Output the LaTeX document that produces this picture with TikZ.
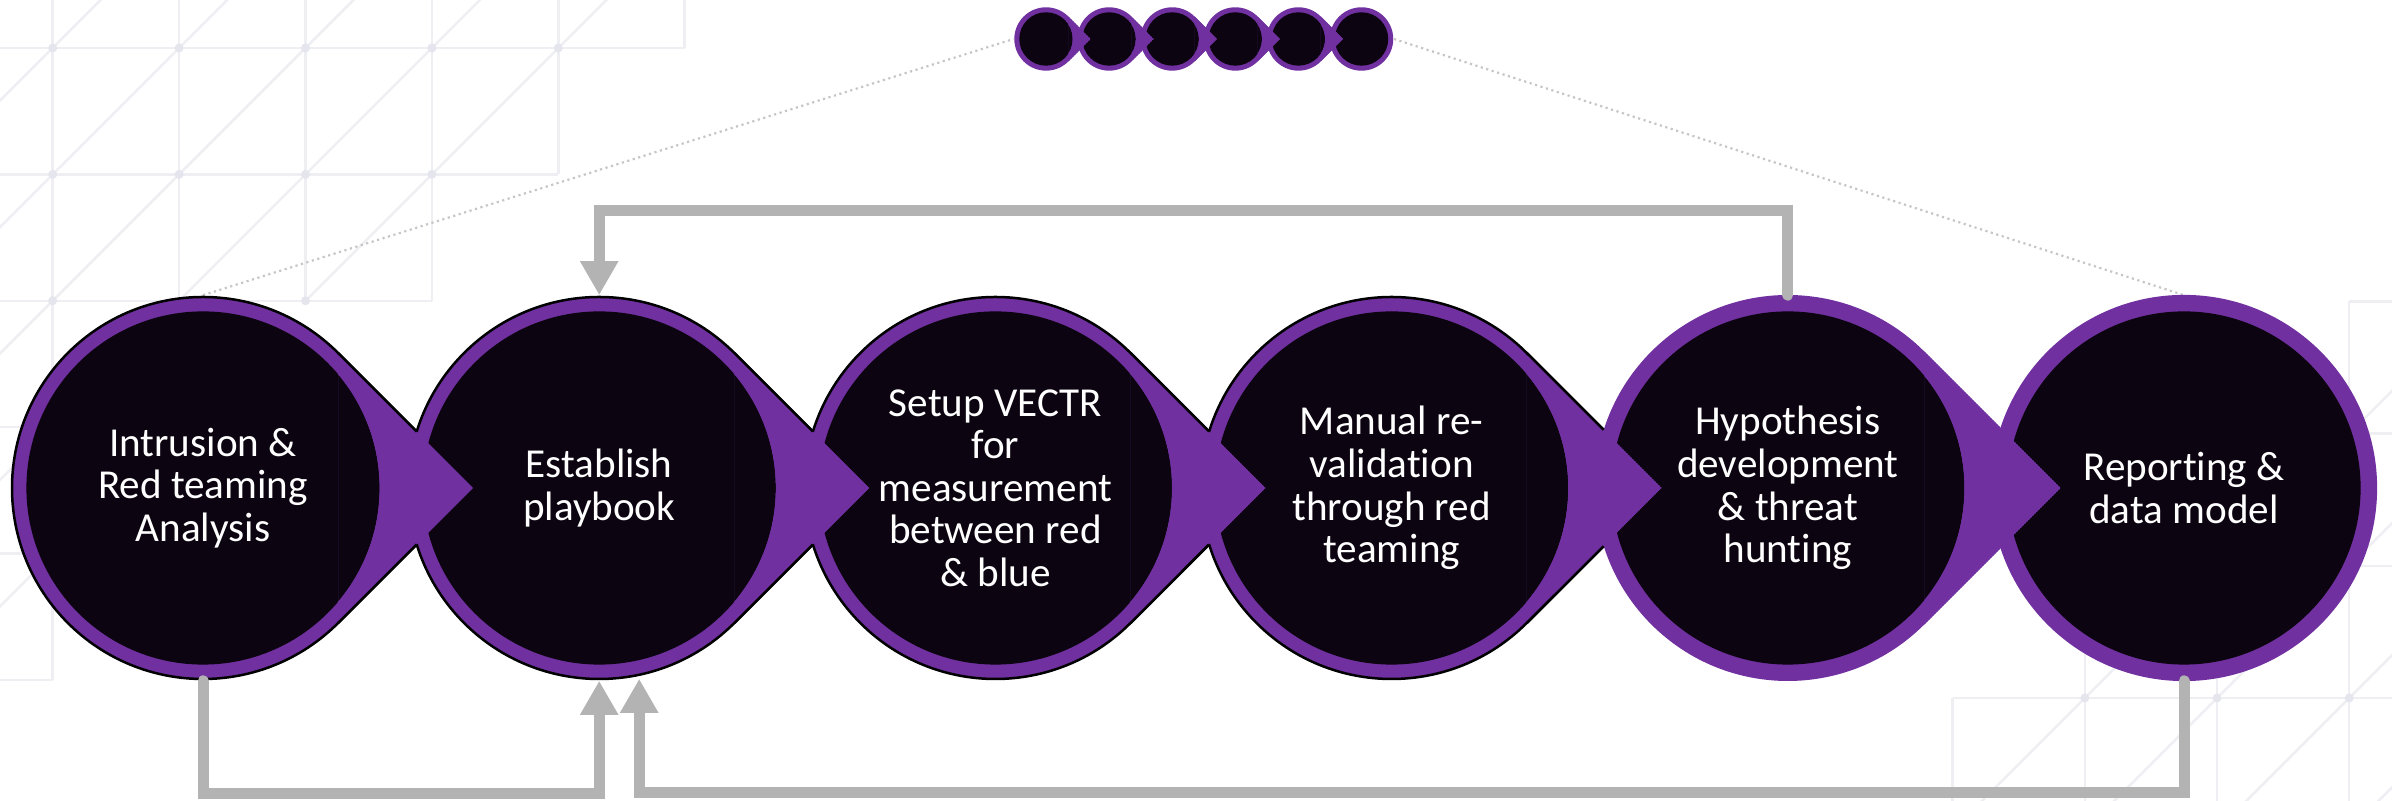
\documentclass[tikz,border=0pt]{standalone}
\usepackage{fontspec}
\setmainfont{Carlito}[Ligatures={NoCommon}]
\usetikzlibrary{arrows.meta,calc}
\definecolor{vpurple}{HTML}{7030A0}
\definecolor{vblack}{HTML}{0C0410}
\definecolor{gridc}{HTML}{EEEEF3}
\definecolor{gridd}{HTML}{E5E5EE}
\definecolor{connc}{HTML}{B3B3B3}
\definecolor{dotc}{HTML}{C6C6C6}
\pgfdeclarelayer{gridl}
\pgfdeclarelayer{shapes}
\pgfsetlayers{gridl,shapes,main}
\newcommand\tdpath[3]{(#1+0.70711*#3,#2+0.70711*#3) arc[start angle=45,end angle=315,radius=#3*0.01cm] -- (#1+1.41421*#3,#2) -- cycle}
\newcommand\tripath[3]{(#1+0.70711*#3,#2+0.70711*#3) -- (#1+1.41421*#3,#2) -- (#1+0.70711*#3,#2-0.70711*#3) -- cycle}
\begin{document}
\begin{tikzpicture}[x=0.01cm,y=0.01cm,
  stepnode/.style={circle, minimum size=3.84cm, inner sep=0pt, text=white, align=center, font=\fontsize{11.7pt}{12.1pt}\selectfont},
  mininode/.style={circle, minimum size=0.634cm, inner sep=0pt},
  conn/.style={draw=connc, line width=0.11cm, line cap=round, -{Triangle[width=0.36cm,length=0.34cm]}},
  dotline/.style={draw=dotc, line width=0.022cm, dash pattern=on 0.022cm off 0.035cm},
  gridline/.style={draw=gridc, line width=0.025cm},
  outl/.style={draw=black, line width=0.025cm}]
\useasboundingbox (0,0) rectangle (2392,801);

% ---------- nodes (text) ----------
\node[stepnode] (c1) at (203,313) {Intrusion \&\\Red teaming\\Analysis};
\node[stepnode] (c2) at (599.2,313) {Establish\\playbook};
\node[stepnode] (c3) at (995.4,313) {Setup VECTR\\for\\measurement\\between red\\\& blue};
\node[stepnode] (c4) at (1391.6,313) {Manual re-\\validation\\through red\\teaming};
\node[stepnode] (c5) at (1787.8,313) {Hypothesis\\development\\\& threat\\hunting};
\node[stepnode] (c6) at (2184,313) {Reporting \&\\data model};
\node[mininode] (m1) at (1046,762) {};
\node[mininode] (m2) at (1109.1,762) {};
\node[mininode] (m3) at (1172.2,762) {};
\node[mininode] (m4) at (1235.3,762) {};
\node[mininode] (m5) at (1298.4,762) {};
\node[mininode] (m6) at (1361.5,762) {};
\coordinate (lowA) at (0,7);
\coordinate (lowB) at (0,8.5);
\coordinate (high) at (0,590);
\coordinate (c2in) at ($(c2.south)+(40,2)$);

% ---------- background grid ----------
\begin{pgfonlayer}{gridl}
 % top-left grid
 \begin{scope}
  \clip (0,801) -- (684.7,801) -- (684.7,753) -- (558.3,753) -- (558.3,626.6) -- (431.9,626.6) -- (431.9,500.2) -- (179.1,500.2) -- (179.1,373.8) -- (52.7,373.8) -- (52.7,121) -- (0,121) -- cycle;
  \foreach \n in {-1,...,6}{
    \pgfmathsetmacro\cc{100.7+126.4*\n}
    \draw[gridline] (-100,{701-\cc}) -- (800,{1601-\cc});
  }
 \end{scope}
 \draw[gridline] (0,753) -- (684.7,753);
 \draw[gridline] (0,626.6) -- (558.3,626.6);
 \draw[gridline] (0,500.2) -- (431.9,500.2);
 \draw[gridline] (0,373.8) -- (179.1,373.8);
 \draw[gridline] (0,247.4) -- (52.7,247.4);
 \draw[gridline] (0,121) -- (52.7,121);
 \draw[gridline] (52.7,801) -- (52.7,121);
 \draw[gridline] (179.1,801) -- (179.1,373.8);
 \draw[gridline] (305.5,801) -- (305.5,500.2);
 \draw[gridline] (431.9,801) -- (431.9,500.2);
 \draw[gridline] (558.3,801) -- (558.3,626.6);
 \draw[gridline] (684.7,801) -- (684.7,753);
 \foreach \p in {(52.7,753),(179.1,753),(305.5,753),(431.9,753),(558.3,753),
                 (52.7,626.6),(179.1,626.6),(305.5,626.6),(431.9,626.6),
                 (52.7,500.2),(305.5,500.2)}
   \fill[gridd] \p circle[radius=0.045cm];
 % bottom-right grid
 \begin{scope}
  \clip (1952.6,0) -- (1952.6,103) -- (2084.8,103) -- (2084.8,235.2) -- (2349.2,235.2) -- (2349.2,499.6) -- (2392,499.6) -- (2392,0) -- cycle;
  \foreach \n in {-1,...,5}{
    \pgfmathsetmacro\cc{2650.6+132.2*\n}
    \draw[gridline] (1900,{2701-\cc}) -- (2400,{3201-\cc});
  }
 \end{scope}
 \draw[gridline] (2349.2,499.6) -- (2392,499.6);
 \draw[gridline] (2349.2,367.4) -- (2392,367.4);
 \draw[gridline] (2084.8,235.2) -- (2392,235.2);
 \draw[gridline] (1952.6,103) -- (2392,103);
 \draw[gridline] (1952.6,0) -- (1952.6,103);
 \draw[gridline] (2084.8,0) -- (2084.8,235.2);
 \draw[gridline] (2217,0) -- (2217,235.2);
 \draw[gridline] (2349.2,0) -- (2349.2,499.6);
 \foreach \p in {(2084.8,103),(2217,103),(2349.2,103)}
   \fill[gridd] \p circle[radius=0.045cm];
 % dotted links to the overview chain
 \draw[dotline] (c1.north) -- (m1.west);
 \draw[dotline] (m6.east) -- (c6.north);
\end{pgfonlayer}

% ---------- shapes ----------
\begin{pgfonlayer}{shapes}
 % big chain: outer teardrops
 \foreach \i in {0,...,5}{
   \pgfmathsetmacro\cx{203+396.2*\i}
   \ifnum\i<4
     \filldraw[fill=vpurple, outl] \tdpath{\cx}{313}{191};
   \else
     \ifnum\i=4
       \fill[vpurple] \tdpath{\cx}{313}{193};
     \else
       \fill[vpurple] (\cx,313) circle[radius=1.93cm];
     \fi
   \fi
 }
 % inner discs
 \foreach \i in {0,...,5}{
   \pgfmathsetmacro\cx{203+396.2*\i}
   \fill[vblack] (\cx,313) circle[radius=1.765cm];
 }
 % arrow tips reaching into the next disc
 \foreach \i in {0,...,4}{
   \pgfmathsetmacro\cx{203+396.2*\i}
   \pgfmathsetmacro\R{ifthenelse(\i<4,191,193)}
   \begin{scope}
     \clip \tripath{\cx}{313}{\R};
     \fill[vpurple, even odd rule] \tripath{\cx}{313}{\R} (\cx,313) circle[radius=1.765cm];
   \end{scope}
 }
 % restore outline of tangent edges (outside next disc)
 \foreach \i/\ex/\ey in {0/213.6/56.5,1/213.6/56.5,2/213.6/56.5,3/212.0/58.2}{
   \pgfmathsetmacro\cx{203+396.2*\i}
   \draw[outl] (\cx+135.06,313+135.06) -- (\cx+\ex,313+\ey);
   \draw[outl] (\cx+135.06,313-135.06) -- (\cx+\ex,313-\ey);
 }
 % mini chain
 \foreach \i in {0,...,5}{
   \pgfmathsetmacro\cx{1046+63.1*\i}
   \ifnum\i<5
     \fill[vpurple] \tdpath{\cx}{762}{31.7};
   \else
     \fill[vpurple] (\cx,762) circle[radius=0.317cm];
   \fi
 }
 \foreach \i in {0,...,5}{
   \pgfmathsetmacro\cx{1046+63.1*\i}
   \fill[vblack] (\cx,762) circle[radius=0.267cm];
 }
 \foreach \i in {0,...,4}{
   \pgfmathsetmacro\cx{1046+63.1*\i}
   \begin{scope}
     \clip \tripath{\cx}{762}{31.7};
     \fill[vpurple, even odd rule] \tripath{\cx}{762}{31.7} (\cx,762) circle[radius=0.267cm];
   \end{scope}
 }
\end{pgfonlayer}

% ---------- connectors ----------
\draw[conn] (c1.south) -- (c1.south |- lowA) -| (c2.south);
\draw[conn] (c6.south) -- (c6.south |- lowB) -| (c2in);
\draw[conn] (c5.north) -- (c5.north |- high) -| (c2.north);
\end{tikzpicture}
\end{document}
